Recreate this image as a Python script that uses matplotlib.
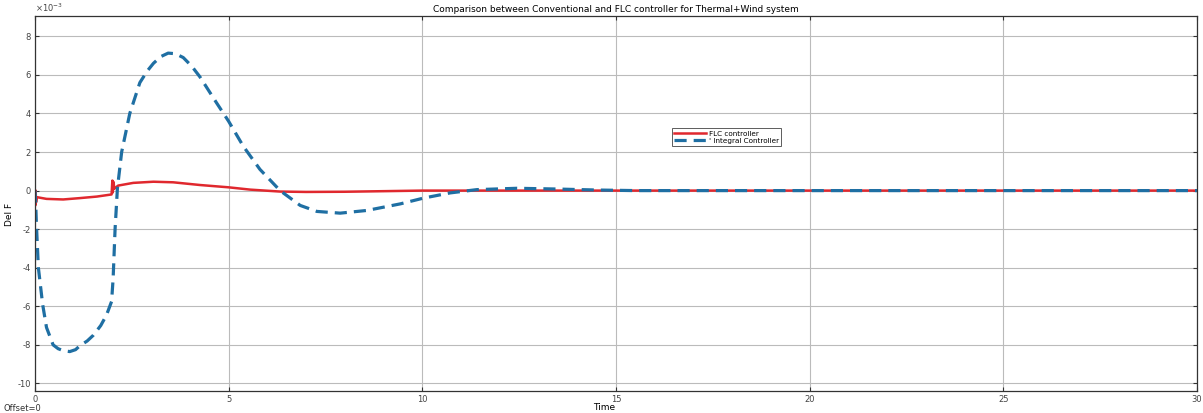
import matplotlib
matplotlib.use("Agg")
import matplotlib.pyplot as plt

# Integral controller response (time, del F in 1e-3)
t_int = [0.0, 0.02, 0.04, 0.09, 0.2, 0.3, 0.47, 0.6, 0.73, 0.9, 1.05, 1.16, 1.35, 1.51, 1.7, 1.85, 1.98,
         2.02, 2.07, 2.13, 2.24, 2.45, 2.71, 2.9, 3.06, 3.25, 3.44, 3.63, 3.83, 4.05, 4.26, 4.69,
         5.0, 5.38, 5.81, 6.33, 6.85, 7.28, 7.88, 8.57, 9.43, 10.03, 10.72, 11.41,
         12.45, 13.5, 14.5, 15.5, 20.0, 25.0, 30.0]
y_int = [0.0, -0.6, -1.8, -4.0, -5.9, -7.1, -8.0, -8.2, -8.3, -8.35, -8.25, -8.05, -7.8, -7.5, -7.0, -6.45, -5.75,
         -4.55, -2.0, 0.1, 2.0, 4.0, 5.6, 6.2, 6.6, 6.95, 7.13, 7.1, 6.9, 6.45, 5.9, 4.55,
         3.6, 2.3, 1.1, 0.0, -0.77, -1.08, -1.17, -1.03, -0.69, -0.39, -0.12, 0.05,
         0.12, 0.08, 0.03, 0.0, 0.0, 0.0, 0.0]

# FLC controller response
t_flc = [0.0, 0.01, 0.02, 0.03, 0.05, 0.3, 0.73, 1.16, 1.6, 1.98, 2.0, 2.01, 2.03, 2.05,
         2.15, 2.54, 3.06, 3.57, 4.26, 5.0, 5.56, 6.33, 7.0, 8.0, 9.0, 10.0, 15.0, 20.0, 30.0]
y_flc = [0.0, -0.77, 0.0, -0.6, -0.34, -0.43, -0.46, -0.39, -0.31, -0.2, 0.52, -0.1, 0.45, 0.1,
         0.26, 0.4, 0.46, 0.43, 0.29, 0.17, 0.05, -0.05, -0.07, -0.06, -0.03, 0.0, 0.0, 0.0, 0.0]

x_ticks = [0, 5, 10, 15, 20, 25, 30]
y_ticks = [-10, -8, -6, -4, -2, 0, 2, 4, 6, 8]

fig = plt.figure(figsize=(12.03, 4.13), dpi=100)
ax = fig.add_axes([0.029, 0.053, 0.966, 0.908])

ax.plot(t_flc, [v * 1e-3 for v in y_flc], color='#e0282e', lw=1.8, label='FLC controller')
ax.plot(t_int, [v * 1e-3 for v in y_int], color='#1f6fa3', lw=2.3, ls=(0, (3.8, 2.2)),
        label="' Integral Controller")

ax.set_xlim(0, 30)
ax.set_ylim(-10.4e-3, 9.05e-3)
ax.set_xticks(x_ticks)
ax.set_xticklabels([str(v) for v in x_ticks])
ax.set_yticks([v * 1e-3 for v in y_ticks])
ax.set_yticklabels([str(v) for v in y_ticks])
ax.tick_params(direction='in', labelsize=6, colors='#333333', length=3,
               top=True, right=True, labelcolor='#444444', pad=3)
ax.grid(True, color='#bbbbbb', lw=0.8)
for s in ax.spines.values():
    s.set_color('#333333')
    s.set_linewidth(0.9)

ax.set_title('Comparison between Conventional and FLC controller for Thermal+Wind system',
             fontsize=6.5, pad=3)
ax.set_xlabel('Time', fontsize=6.5)
ax.xaxis.set_label_coords(0.49, -0.032)
ax.set_ylabel('Del F', fontsize=6.5)
ax.yaxis.set_label_coords(-0.018, 0.47)
ax.text(0.0, 1.005, r'$\times10^{-3}$', transform=ax.transAxes, fontsize=6,
        color='#444444', va='bottom', ha='left')
fig.text(0.003, 0.004, 'Offset=0', fontsize=6, color='#333333')

leg = ax.legend(loc='center', bbox_to_anchor=(0.595, 0.677), fontsize=5.2, frameon=True,
                fancybox=False, edgecolor='#333333', handlelength=4.5, borderpad=0.3,
                labelspacing=0.2, handletextpad=0.3)
leg.get_frame().set_linewidth(0.7)

fig.savefig('out.png', dpi=100)
